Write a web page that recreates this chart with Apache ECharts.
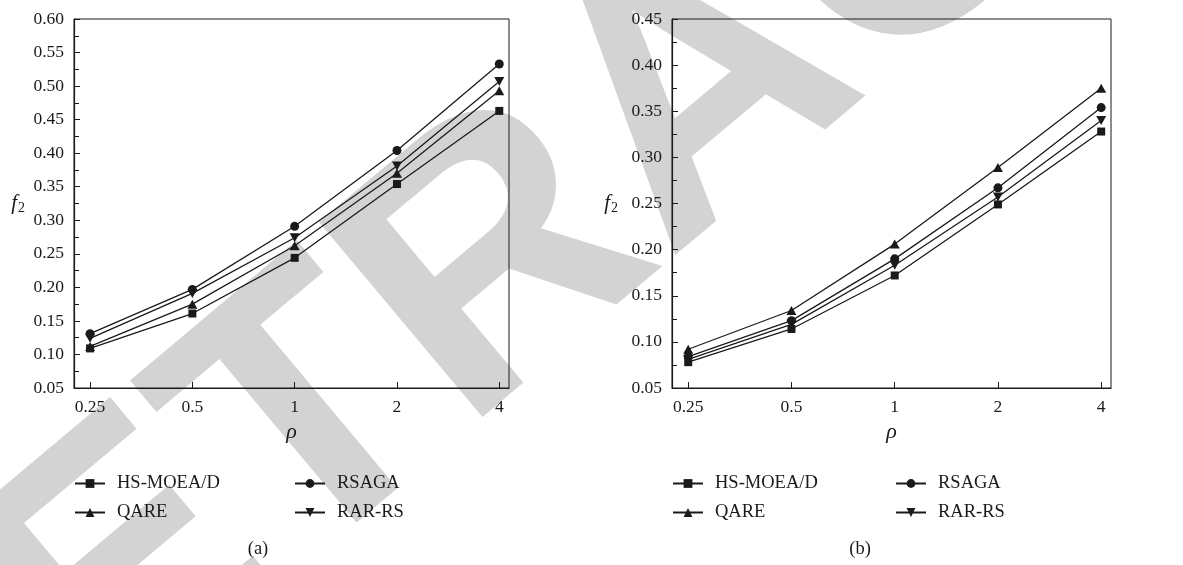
<!DOCTYPE html>
<html>
<head>
<meta charset="utf-8">
<title>f2 versus rho</title>
<script src="https://cdn.jsdelivr.net/npm/echarts@6/dist/echarts.min.js"></script>
<style>
  html, body { margin: 0; padding: 0; background: #fff; }
  #chart { width: 1183px; height: 565px; }
</style>
</head>
<body>
<div id="chart"></div>
<script>
// x categories (equally spaced on a log2 scale)
const rhoLabels = ['0.25', '0.5', '1', '2', '4'];
const seriesNames = ['HS-MOEA/D', 'RSAGA', 'QARE', 'RAR-RS'];

// panel (a)
const f2A_hsmoead = [0.109, 0.161, 0.244, 0.354, 0.463];
const f2A_rsaga   = [0.131, 0.197, 0.291, 0.404, 0.533];
const f2A_qare    = [0.112, 0.175, 0.262, 0.370, 0.493];
const f2A_rarrs   = [0.124, 0.191, 0.274, 0.381, 0.507];

// panel (b)
const f2B_hsmoead = [0.078, 0.114, 0.172, 0.249, 0.328];
const f2B_rsaga   = [0.084, 0.123, 0.190, 0.267, 0.354];
const f2B_qare    = [0.092, 0.134, 0.206, 0.289, 0.375];
const f2B_rarrs   = [0.081, 0.119, 0.183, 0.257, 0.340];

const yTicksA = { min: 0.05, max: 0.60, step: 0.05 };
const yTicksB = { min: 0.05, max: 0.45, step: 0.05 };

const INK = '#1a1a1a';
const SERIF = '"Liberation Serif", "DejaVu Serif", serif';

const symbols = {
  'HS-MOEA/D': { symbol: 'rect', size: 8 },
  'RSAGA':     { symbol: 'circle', size: 9 },
  'QARE':      { symbol: 'path://M5,0L10,9L0,9Z', size: [10, 9] },
  'RAR-RS':    { symbol: 'path://M0,0L10,0L5,9Z', size: [10, 9] }
};

const panels = [
  { values: [f2A_hsmoead, f2A_rsaga, f2A_qare, f2A_rarrs], y: yTicksA,
    grid: { left: 74, top: 19, width: 435, height: 369 }, nameGap: 49,
    legendLeft: [74, 294], caption: '(a)', captionX: 258 },
  { values: [f2B_hsmoead, f2B_rsaga, f2B_qare, f2B_rarrs], y: yTicksB,
    grid: { left: 672, top: 19, width: 439, height: 369 }, nameGap: 54,
    legendLeft: [672, 895], caption: '(b)', captionX: 860 }
];

const grids = [], xAxes = [], yAxes = [], series = [], legends = [], titles = [];

panels.forEach((p, gi) => {
  grids.push(Object.assign({ show: true, borderColor: INK, borderWidth: 1,
    backgroundColor: 'transparent', containLabel: false }, p.grid));

  xAxes.push({
    type: 'value', gridIndex: gi, min: -0.157, max: 4.095,
    name: 'ρ', nameLocation: 'middle', nameGap: 31,
    nameTextStyle: { fontFamily: SERIF, fontStyle: 'italic', fontSize: 22, color: INK },
    axisLine: { show: true, onZero: false, lineStyle: { color: INK, width: 1.2 } },
    axisTick: { show: true, inside: true, length: 6, customValues: [0, 1, 2, 3, 4],
      lineStyle: { color: INK, width: 1 } },
    axisLabel: { customValues: [0, 1, 2, 3, 4], margin: 10, fontFamily: SERIF, fontSize: 17.5, color: INK,
      formatter: v => rhoLabels[Math.round(v)] },
    splitLine: { show: false }
  });

  yAxes.push({
    type: 'value', gridIndex: gi, min: p.y.min, max: p.y.max, interval: p.y.step,
    name: '{f|f}{s|2}', nameLocation: 'middle', nameRotate: 0, nameGap: p.nameGap,
    nameTextStyle: {
      color: INK,
      rich: {
        f: { fontFamily: SERIF, fontStyle: 'italic', fontSize: 21, color: INK },
        s: { fontFamily: SERIF, fontSize: 14, color: INK, padding: [9, 0, 0, 1] }
      }
    },
    axisLine: { show: true, onZero: false, lineStyle: { color: INK, width: 1.2 } },
    axisTick: { show: true, inside: true, length: 6, lineStyle: { color: INK, width: 1 } },
    minorTick: { show: true, splitNumber: 2, length: 5, lineStyle: { color: INK, width: 1 } },
    axisLabel: { margin: 10, fontFamily: SERIF, fontSize: 17.5, color: INK,
      formatter: v => v.toFixed(2) },
    splitLine: { show: false }, minorSplitLine: { show: false }
  });

  seriesNames.forEach((name, si) => {
    const sym = symbols[name];
    series.push({
      type: 'line', name: name, xAxisIndex: gi, yAxisIndex: gi,
      data: p.values[si].map((v, i) => [i, v]),
      symbol: sym.symbol, symbolSize: sym.size, showAllSymbol: true,
      lineStyle: { color: INK, width: 1.3 },
      itemStyle: { color: INK, borderWidth: 0 },
      emphasis: { disabled: true }, animation: false, z: 3
    });
  });

  // legend laid out in two columns of two rows
  const rows = [474, 503];
  [['HS-MOEA/D', 0, 0], ['RSAGA', 1, 0], ['QARE', 0, 1], ['RAR-RS', 1, 1]].forEach(([name, col, row]) => {
    legends.push({
      data: [name], left: p.legendLeft[col], top: rows[row], padding: 0,
      itemWidth: 30, itemHeight: 11, selectedMode: false,
      textStyle: { fontFamily: SERIF, fontSize: 18.5, color: INK, padding: [0, 0, 0, 7] }
    });
  });

  titles.push({
    text: p.caption, left: p.captionX, top: 540, textAlign: 'center', padding: 0,
    textStyle: { fontFamily: SERIF, fontSize: 18.5, fontWeight: 'normal', color: INK }
  });
});

const chart = echarts.init(document.getElementById('chart'), null, { renderer: 'canvas' });
chart.setOption({
  animation: false,
  backgroundColor: '#fff',
  title: titles,
  grid: grids,
  xAxis: xAxes,
  yAxis: yAxes,
  legend: legends,
  series: series,
  graphic: [{
    type: 'text', z: -10, silent: true,
    x: 705, y: 97, rotation: 40 * Math.PI / 180,
    style: {
      text: 'RETRACTED', fontFamily: '"Liberation Sans", Arial, sans-serif',
      fontWeight: 'bold', fontSize: 370, fill: '#d3d3d3',
      align: 'center', verticalAlign: 'middle'
    }
  }]
});
</script>
</body>
</html>
